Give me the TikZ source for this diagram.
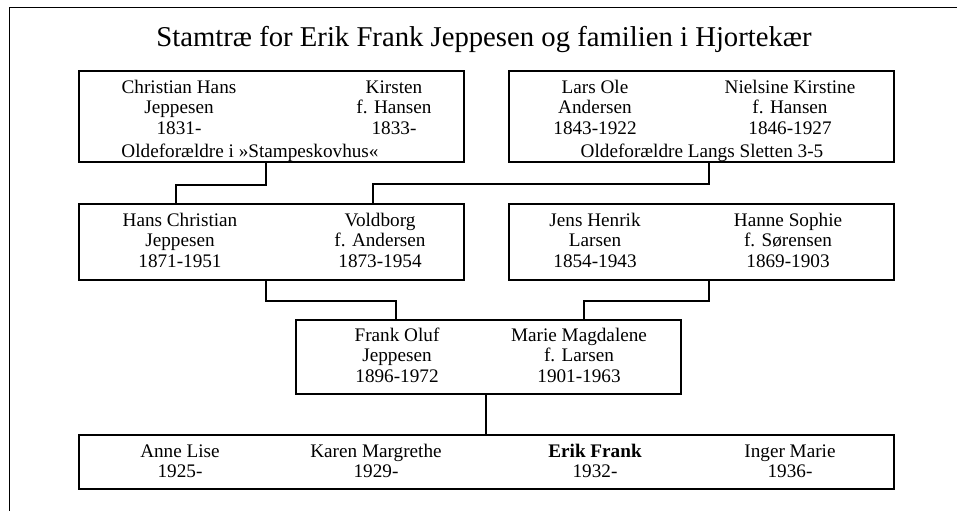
\documentclass[tikz,border=0pt]{standalone}
\usepackage{fontspec}
\setmainfont{Liberation Serif}
\usepackage{tikz}
\usetikzlibrary{calc}
\tikzset{family box/.style={draw,line width=1.5pt,minimum width=385pt,inner sep=0pt},person/.style={align=center,inner sep=0pt,font=\fontsize{19.2}{20.5}\selectfont,execute at begin node=\strut,execute at end node=\strut},tree line/.style={line width=1.5pt}}

\begin{document}
\begin{tikzpicture}[x=1pt,y=-1pt]
			\useasboundingbox (0,0) rectangle (957,511);
			\draw[line width=1pt] (957,7.5) -- (9,7.5) -- (9,511);
			\node[anchor=base,inner sep=0pt,font=\fontsize{28.7}{30}\selectfont] (title) at (484,47) {Stamtræ for Erik Frank Jeppesen og familien i Hjortekær};
			% Boxes
			\node[family box,minimum height=91pt] (oldA) at (271.5,116.5) {};
			\node[family box,minimum height=91pt] (oldB) at (701.5,116.5) {};
			\node[family box,minimum height=76pt] (bedA) at (271.5,242) {};
			\node[family box,minimum height=76pt] (bedB) at (701.5,242) {};
			\node[family box,minimum height=74pt] (par) at (488.5,357) {};
			\node[family box,minimum height=54pt,minimum width=815pt] (kids) at (486.5,462) {};
			% Names
			\node[person] (chrHans) at (179,110.4) {Christian Hans\\Jeppesen\\1831-};
			\node[person] (kirsten) at (394,110.4) {Kirsten\\f. Hansen\\1833-};
			\node[person,anchor=base,execute at begin node={},execute at end node={}] (oldAplace) at (250,157) {Oldeforældre i »Stampeskovhus«};
			\node[person] (larsOle) at (595,110.4) {Lars Ole\\Andersen\\1843-1922};
			\node[person] (nielsine) at (790,110.4) {Nielsine Kirstine\\f. Hansen\\1846-1927};
			\node[person,anchor=base,execute at begin node={},execute at end node={}] (oldBplace) at (702,157) {Oldeforældre Langs Sletten 3-5};
			\node[person] (hansChr) at (180,243.2) {Hans Christian\\Jeppesen\\1871-1951};
			\node[person] (voldborg) at (380,243.2) {Voldborg\\f. Andersen\\1873-1954};
			\node[person] (jensHenrik) at (595,243.2) {Jens Henrik\\Larsen\\1854-1943};
			\node[person] (hanne) at (788,243.2) {Hanne Sophie\\f. Sørensen\\1869-1903};
			\node[person] (frank) at (397,358) {Frank Oluf\\Jeppesen\\1896-1972};
			\node[person] (marie) at (579,358) {Marie Magdalene\\f. Larsen\\1901-1963};
			\node[person] (anne) at (180,464) {Anne Lise\\1925-};
			\node[person] (karen) at (376,464) {Karen Margrethe\\1929-};
			\node[person] (erik) at (595,464) {\textbf{Erik Frank}\\1932-};
			\node[person] (inger) at (790,464) {Inger Marie\\1936-};
			% Lines
			\draw[tree line] (oldA.south -| 266,0) -- ++(0,22) -| (bedA.north -| 176,0);
			\draw[tree line] (oldB.south -| 709,0) -- ++(0,21) -| (bedA.north -| 373,0);
			\draw[tree line] (bedA.south -| 266,0) -- ++(0,20) -| (par.north -| 396,0);
			\draw[tree line] (bedB.south -| 709,0) -- ++(0,20) -| (par.north -| 584,0);
			\draw[tree line] (par.south -| 486,0) -- (kids.north -| 486,0);
		\end{tikzpicture}
\end{document}
